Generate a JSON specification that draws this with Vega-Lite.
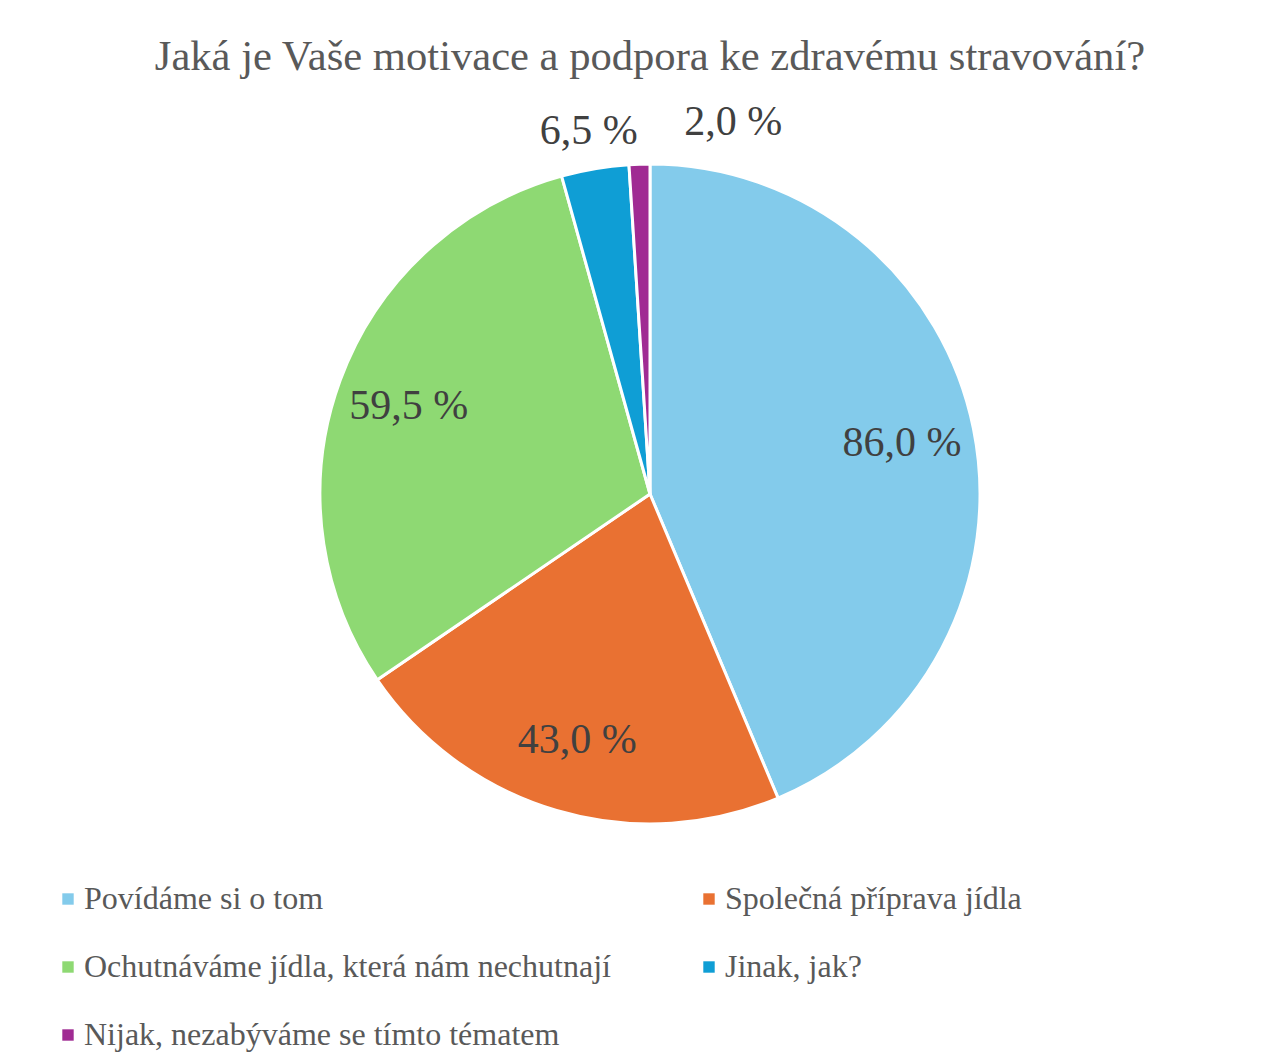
{
  "$schema": "https://vega.github.io/schema/vega-lite/v6.json",
  "width": 1266,
  "height": 658,
  "autosize": {"type": "none"},
  "padding": {"left": 17, "top": 165, "right": 0, "bottom": 239},
  "background": "white",
  "config": {"view": {"stroke": null}},
  "title": {
    "text": "Jaká je Vaše motivace a podpora ke zdravému stravování?",
    "font": "Liberation Serif",
    "fontSize": 42.6,
    "fontWeight": "normal",
    "color": "#595959",
    "anchor": "middle",
    "offset": 23
  },
  "data": {
    "values": [
      {"kategorie": "Povídáme si o tom", "podil": 86.0, "popisek": "86,0 %", "poradi": 1},
      {"kategorie": "Společná příprava jídla", "podil": 43.0, "popisek": "43,0 %", "poradi": 2},
      {"kategorie": "Ochutnáváme jídla, která nám nechutnají", "podil": 59.5, "popisek": "59,5 %", "poradi": 3},
      {"kategorie": "Jinak, jak?", "podil": 6.5, "popisek": "6,5 %", "poradi": 4},
      {"kategorie": "Nijak, nezabýváme se tímto tématem", "podil": 2.0, "popisek": "2,0 %", "poradi": 5}
    ]
  },
  "encoding": {
    "theta": {"field": "podil", "type": "quantitative", "stack": true},
    "order": {"field": "poradi", "type": "quantitative"}
  },
  "layer": [
    {
      "mark": {"type": "arc", "outerRadius": 330, "stroke": "white", "strokeWidth": 3},
      "encoding": {
        "color": {
          "field": "kategorie",
          "type": "nominal",
          "scale": {
            "domain": ["Povídáme si o tom", "Společná příprava jídla", "Ochutnáváme jídla, která nám nechutnají", "Jinak, jak?", "Nijak, nezabýváme se tímto tématem"],
            "range": ["#83CBEB", "#E97132", "#8ED973", "#0F9ED5", "#A02B93"]
          },
          "sort": null,
          "legend": {
            "orient": "none",
            "legendX": 35,
            "legendY": 718,
            "columns": 2,
            "direction": "horizontal",
            "title": null,
            "symbolType": "square",
            "symbolSize": 130,
            "symbolStrokeWidth": 0,
            "labelFont": "Liberation Serif",
            "labelFontSize": 32,
            "labelColor": "#595959",
            "labelOffset": 0,
            "labelLimit": 0,
            "columnPadding": 82,
            "rowPadding": 36,
            "padding": 0
          }
        }
      }
    },
    {
      "mark": {"type": "text", "radius": 257, "font": "Liberation Serif", "fontSize": 42, "color": "#404040", "baseline": "middle", "align": "center"},
      "encoding": {
        "text": {"condition": {"test": "datum.podil > 20", "field": "popisek"}, "value": ""}
      }
    },
    {
      "mark": {"type": "text", "radius": 368, "font": "Liberation Serif", "fontSize": 42, "color": "#404040", "baseline": "middle", "align": "center"},
      "encoding": {
        "text": {"condition": {"test": "datum.poradi == 4", "field": "popisek"}, "value": ""}
      }
    },
    {
      "mark": {"type": "text", "radius": 372, "dx": 95, "font": "Liberation Serif", "fontSize": 42, "color": "#404040", "baseline": "middle", "align": "center"},
      "encoding": {
        "text": {"condition": {"test": "datum.poradi == 5", "field": "popisek"}, "value": ""}
      }
    }
  ]
}
